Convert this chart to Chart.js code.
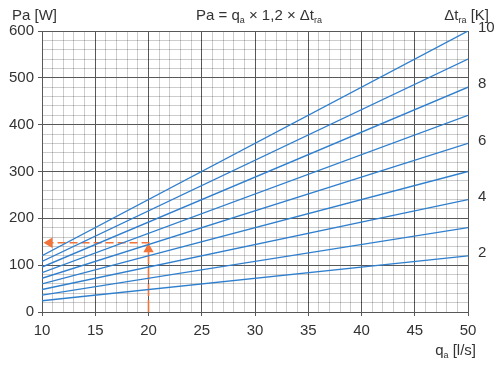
<!DOCTYPE html>
<html>
<head>
<meta charset="utf-8">
<script src="https://cdn.jsdelivr.net/npm/chart.js@4/dist/chart.umd.min.js"></script>
<style>
  html, body { margin: 0; padding: 0; background: #fff; }
  #wrap { width: 500px; height: 365px; }
</style>
</head>
<body>
<div id="wrap"><canvas id="chart" width="500" height="365"></canvas></div>
<script>
// flow at both ends of every line
const qa = [10, 50];

// Pa [W] for each delta t line (read at qa = 10 and qa = 50)
const dt2 = [24, 120];
const dt3 = [36, 180];
const dt4 = [48, 240];
const dt5 = [60, 300];
const dt6 = [72, 360];
const dt7 = [84, 420];
const dt8 = [96, 480];
const dt9 = [108, 540];
const dt10 = [120, 600];
const lines = [dt2, dt3, dt4, dt5, dt6, dt7, dt8, dt9, dt10];

// labels on the right side and the Pa value they sit on
const dtLabels = [2, 4, 6, 8, 10];
const dtLabelPa = [120, 240, 360, 480, 600];

// example reading: 20 l/s -> ~148 W
const arrowUpX = [20, 20];
const arrowUpY = [0, 134];
const arrowLeftX = [20.1, 10.7];
const arrowLeftY = [148, 148];

const FONT = "'Liberation Sans', Arial, sans-serif";
const TEXT = '#333';
const BLUE = '#2f7fcf';
const ORANGE = '#f2733a';
const MAJOR = '#585858';
const MINOR = 'rgba(0,0,0,0.2)';

const datasets = lines.map(vals => ({
  data: qa.map((x, i) => ({ x: x, y: vals[i] })),
  borderColor: BLUE,
  borderWidth: 1.3,
  pointRadius: 0,
  tension: 0
}));

datasets.push({
  data: arrowUpX.map((x, i) => ({ x: x, y: arrowUpY[i] })),
  borderColor: ORANGE,
  backgroundColor: ORANGE,
  borderWidth: 1.6,
  borderDash: [12, 4],
  pointStyle: 'triangle',
  pointRadius: [0, 6],
  pointBorderWidth: 0,
  pointRotation: 0
});
datasets.push({
  data: arrowLeftX.map((x, i) => ({ x: x, y: arrowLeftY[i] })),
  borderColor: ORANGE,
  backgroundColor: ORANGE,
  borderWidth: 1.6,
  borderDash: [8, 4],
  pointStyle: 'triangle',
  pointRadius: [0, 6],
  pointBorderWidth: 0,
  pointRotation: -90
});

// draws text pieces with small subscripts, anchored by align
function drawRich(ctx, parts, x, y, align) {
  const big = '15px ' + FONT, small = '9px ' + FONT;
  let total = 0;
  parts.forEach(p => { ctx.font = p.sub ? small : big; total += ctx.measureText(p.t).width; });
  let cx = align === 'center' ? x - total / 2 : align === 'right' ? x - total : x;
  ctx.textBaseline = 'alphabetic';
  ctx.textAlign = 'left';
  parts.forEach(p => {
    ctx.font = p.sub ? small : big;
    ctx.fillText(p.t, cx, p.sub ? y + 3 : y);
    cx += ctx.measureText(p.t).width;
  });
}

const labelsPlugin = {
  id: 'labels',
  afterDraw(chart) {
    const ctx = chart.ctx;
    ctx.save();
    ctx.fillStyle = TEXT;
    drawRich(ctx, [{ t: 'Pa [W]' }], 12, 20, 'left');
    drawRich(ctx, [{ t: 'Pa = q' }, { t: 'a', sub: true }, { t: ' × 1,2 × Δt' }, { t: 'ra', sub: true }], 259, 20, 'center');
    drawRich(ctx, [{ t: 'Δt' }, { t: 'ra', sub: true }, { t: ' [K]' }], 489, 20, 'right');
    drawRich(ctx, [{ t: 'q' }, { t: 'a', sub: true }, { t: ' [l/s]' }], 476, 355, 'right');
    ctx.restore();
  }
};

new Chart(document.getElementById('chart'), {
  type: 'line',
  data: { datasets: datasets },
  options: {
    responsive: false,
    animation: false,
    events: [],
    layout: { padding: { top: 31, left: 0, right: 0, bottom: 0 } },
    plugins: { legend: { display: false }, tooltip: { enabled: false }, title: { display: false } },
    scales: {
      x: {
        type: 'linear',
        min: 10,
        max: 50,
        afterFit: s => { s.height = 53; },
        border: { color: MAJOR, width: 1 },
        grid: {
          color: c => c.tick && c.tick.value % 5 === 0 ? MAJOR : MINOR,
          tickColor: c => c.tick && c.tick.value % 5 === 0 ? MAJOR : 'rgba(0,0,0,0)',
          tickLength: 4,
          lineWidth: 1
        },
        ticks: {
          stepSize: 1,
          autoSkip: false,
          maxRotation: 0,
          padding: 6,
          color: TEXT,
          font: { family: FONT, size: 15 },
          callback: v => v % 5 === 0 ? String(v) : ''
        }
      },
      y: {
        type: 'linear',
        min: 0,
        max: 600,
        afterFit: s => { s.width = 42; },
        border: { color: MAJOR, width: 1 },
        grid: {
          color: c => c.tick && c.tick.value % 100 === 0 ? MAJOR : MINOR,
          tickColor: c => c.tick && c.tick.value % 100 === 0 ? MAJOR : 'rgba(0,0,0,0)',
          tickLength: 4,
          lineWidth: 1
        },
        ticks: {
          stepSize: 20,
          autoSkip: false,
          padding: 4,
          color: TEXT,
          font: { family: FONT, size: 15 },
          callback: v => v % 100 === 0 ? String(v) : ''
        }
      },
      y2: {
        type: 'linear',
        position: 'right',
        min: 0,
        max: 600,
        afterFit: s => { s.width = 32; },
        afterBuildTicks: s => { s.ticks = dtLabelPa.map(v => ({ value: v })); },
        border: { display: false },
        grid: { display: false, drawTicks: false },
        ticks: {
          autoSkip: false,
          padding: 10,
          labelOffset: -3,
          color: TEXT,
          font: { family: FONT, size: 15 },
          callback: (v, i) => String(dtLabels[i])
        }
      }
    }
  },
  plugins: [labelsPlugin]
});
</script>
</body>
</html>
